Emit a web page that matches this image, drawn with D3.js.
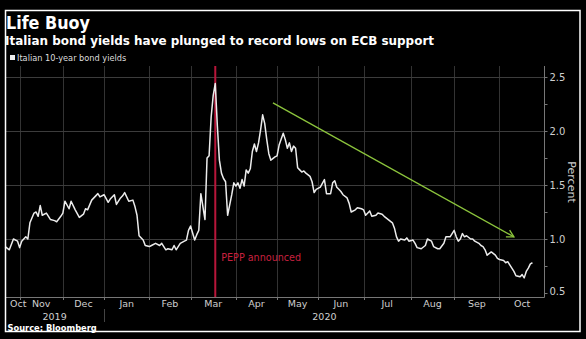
<!DOCTYPE html>
<html>
<head>
<meta charset="utf-8">
<script src="https://cdn.jsdelivr.net/npm/d3@7"></script>
<style>
  html, body { margin: 0; padding: 0; background: #000; }
  svg { display: block; }
  text { font-family: "DejaVu Sans", Verdana, sans-serif; }
</style>
</head>
<body>
<svg id="chart" width="586" height="339"></svg>
<script>
// Italian 10-year government bond yield, percent, by trading day
const dates = [
  "2019-10-23","2019-10-25","2019-10-29","2019-10-31","2019-11-01","2019-11-04","2019-11-05","2019-11-06","2019-11-07","2019-11-08",
  "2019-11-12","2019-11-13","2019-11-14","2019-11-15","2019-11-18","2019-11-20","2019-11-22","2019-11-26","2019-11-27","2019-11-29",
  "2019-12-02","2019-12-03","2019-12-05","2019-12-06","2019-12-10","2019-12-12","2019-12-16","2019-12-17","2019-12-18","2019-12-20",
  "2019-12-27","2019-12-30","2020-01-02","2020-01-06","2020-01-07","2020-01-09","2020-01-10","2020-01-14","2020-01-15","2020-01-16",
  "2020-01-20","2020-01-22","2020-01-23","2020-01-24","2020-01-27","2020-01-29","2020-01-30","2020-02-03","2020-02-04","2020-02-06",
  "2020-02-10","2020-02-11","2020-02-13","2020-02-14","2020-02-18","2020-02-19","2020-02-20","2020-02-24","2020-02-26","2020-02-27",
  "2020-02-28","2020-03-02","2020-03-04","2020-03-05","2020-03-06","2020-03-09","2020-03-11","2020-03-12","2020-03-13","2020-03-16",
  "2020-03-17","2020-03-18","2020-03-19","2020-03-20","2020-03-23","2020-03-24","2020-03-25","2020-03-26","2020-03-30","2020-03-31",
  "2020-04-01","2020-04-02","2020-04-03","2020-04-06","2020-04-07","2020-04-08","2020-04-09","2020-04-14","2020-04-15","2020-04-16",
  "2020-04-17","2020-04-20","2020-04-21","2020-04-22","2020-04-23","2020-04-24","2020-04-27","2020-04-28","2020-04-30","2020-05-04",
  "2020-05-05","2020-05-07","2020-05-08","2020-05-11","2020-05-12","2020-05-13","2020-05-14","2020-05-15","2020-05-18","2020-05-19",
  "2020-05-20","2020-05-21","2020-05-22","2020-05-26","2020-05-27","2020-05-28","2020-05-29","2020-06-02","2020-06-04","2020-06-05",
  "2020-06-09","2020-06-10","2020-06-11","2020-06-12","2020-06-15","2020-06-16","2020-06-17","2020-06-19","2020-06-22","2020-06-23",
  "2020-06-25","2020-06-26","2020-06-30","2020-07-01","2020-07-02","2020-07-06","2020-07-07","2020-07-09","2020-07-10","2020-07-14",
  "2020-07-15","2020-07-17","2020-07-21","2020-07-22","2020-07-23","2020-07-24","2020-07-27","2020-07-29","2020-07-30","2020-07-31",
  "2020-08-04","2020-08-05","2020-08-06","2020-08-10","2020-08-12","2020-08-13","2020-08-17","2020-08-18","2020-08-20","2020-08-21",
  "2020-08-25","2020-08-26","2020-08-28","2020-08-31","2020-09-01","2020-09-02","2020-09-03","2020-09-04","2020-09-07","2020-09-08",
  "2020-09-09","2020-09-11","2020-09-14","2020-09-15","2020-09-17","2020-09-18","2020-09-21","2020-09-22","2020-09-23","2020-09-25",
  "2020-09-29","2020-09-30","2020-10-01","2020-10-05","2020-10-06","2020-10-07","2020-10-09","2020-10-12","2020-10-13","2020-10-15",
  "2020-10-16","2020-10-19","2020-10-20","2020-10-21","2020-10-22","2020-10-23"
];
const yields = [
  0.93,0.90,1.00,0.98,0.92,0.98,1.00,1.02,1.00,1.15,
  1.24,1.25,1.21,1.31,1.22,1.24,1.18,1.17,1.16,1.21,
  1.24,1.35,1.28,1.35,1.27,1.20,1.23,1.28,1.27,1.36,
  1.42,1.39,1.41,1.34,1.37,1.41,1.32,1.38,1.40,1.43,
  1.35,1.36,1.30,1.22,1.03,0.99,0.94,0.93,0.94,0.96,
  0.94,0.96,0.90,0.91,0.90,0.94,0.90,0.96,0.98,0.99,
  1.08,1.12,0.99,1.04,1.08,1.42,1.18,1.75,1.77,2.13,
  2.33,2.44,2.05,1.73,1.61,1.56,1.53,1.22,1.41,1.52,
  1.49,1.52,1.47,1.55,1.49,1.64,1.61,1.65,1.81,1.88,
  1.81,1.89,2.01,2.15,2.07,1.92,1.79,1.73,1.76,1.77,
  1.87,1.98,1.92,1.84,1.89,1.81,1.86,1.84,1.66,1.64,
  1.62,1.63,1.61,1.58,1.53,1.43,1.46,1.48,1.55,1.42,
  1.42,1.52,1.54,1.48,1.46,1.44,1.41,1.38,1.33,1.25,
  1.27,1.29,1.28,1.27,1.22,1.26,1.21,1.22,1.24,1.23,
  1.21,1.18,1.15,1.10,1.02,0.98,1.00,0.99,1.01,0.98,
  0.99,0.96,0.92,0.91,0.94,1.00,0.98,0.93,0.91,0.91,
  0.96,1.02,1.02,1.05,1.08,1.02,0.98,1.00,1.05,1.02,
  1.03,1.00,1.00,0.98,0.96,0.94,0.93,0.90,0.85,0.88,
  0.85,0.82,0.81,0.80,0.78,0.79,0.73,0.70,0.66,0.65,
  0.67,0.64,0.70,0.73,0.77,0.78
];

// Market holidays skipped by the trading-day axis
const holidays = ["2019-12-25","2019-12-26","2020-01-01","2020-04-10","2020-04-13","2020-05-01"];

// Time axis: month boundaries, month names, years
const axisEnd = "2020-11-02";
const monthStarts = ["2019-11-01","2019-12-01","2020-01-01","2020-02-01","2020-03-01","2020-04-01",
                     "2020-05-01","2020-06-01","2020-07-01","2020-08-01","2020-09-01","2020-10-01"];
const monthNames = ["Oct","Nov","Dec","Jan","Feb","Mar","Apr","May","Jun","Jul","Aug","Sep","Oct"];
const yearNames = ["2019","2020"];
const yearBreak = "2020-01-01";

// Value axis
const yTicks = [0.5,0.75,1.0,1.25,1.5,1.75,2.0,2.25,2.5];
const yLabelled = [0.5,1.0,1.5,2.0,2.5];
const yGrid = [1.0,1.5,2.0,2.5];

// Annotations
const eventDate = "2020-03-18";
const eventText = "PEPP announced";
const trendDates = ["2020-04-29","2020-10-12"];
const trendValues = [2.26,1.02];

const W = 586, H = 339;
const frame = {left: 5.5, top: 10.5, right: 580, bottom: 331.5};
const plot = {left: 5.2, right: 544, top: 66, bottom: 297};

const parse = d3.utcParse("%Y-%m-%d");
const fmt = d3.utcFormat("%Y-%m-%d");
const holidaySet = new Set(holidays);
const tradingDay = d3.utcDay.filter(d => {
  const w = d.getUTCDay();
  return w > 0 && w < 6 && !holidaySet.has(fmt(d));
});
const origin = parse(dates[0]);
const tIndex = s => tradingDay.range(origin, parse(s)).length;

const x = d3.scaleLinear()
  .domain([tIndex(dates[0]), tIndex(axisEnd)])
  .range([plot.left, 544.8]);
const y = d3.scaleLinear().domain([0.5, 2.5]).range([293, 77]);

const svg = d3.select("#chart");
svg.append("rect").attr("width", W).attr("height", H).attr("fill", "#000");

// Header
svg.append("text").attr("x", 6).attr("y", 28.5)
  .attr("font-size", 17).attr("font-weight", "bold").attr("fill", "#fff")
  .attr("textLength", 84).attr("lengthAdjust", "spacingAndGlyphs")
  .text("Life Buoy");
svg.append("text").attr("x", 5).attr("y", 44.5)
  .attr("font-size", 12.6).attr("font-weight", "bold").attr("fill", "#fff")
  .attr("textLength", 429).attr("lengthAdjust", "spacingAndGlyphs")
  .text("Italian bond yields have plunged to record lows on ECB support");

// Legend
svg.append("rect").attr("x", 10).attr("y", 55).attr("width", 5).attr("height", 5).attr("fill", "#eee");
svg.append("text").attr("x", 17).attr("y", 60.8)
  .attr("font-size", 8.2).attr("fill", "#ddd")
  .text("Italian 10-year bond yields");

// Grid
const grid = svg.append("g");
grid.selectAll("line.vg").data(monthStarts).join("line")
  .attr("x1", d => Math.round(x(tIndex(d))) + 0.5)
  .attr("x2", d => Math.round(x(tIndex(d))) + 0.5)
  .attr("y1", plot.top).attr("y2", plot.bottom)
  .attr("stroke", "#333").attr("stroke-width", 1);
grid.selectAll("line.hg").data(yGrid).join("line")
  .attr("x1", frame.left).attr("x2", plot.right)
  .attr("y1", d => Math.round(y(d)) + 0.5).attr("y2", d => Math.round(y(d)) + 0.5)
  .attr("stroke", "#3c3c3c").attr("stroke-width", 1);

// Event marker
const ex = x(tIndex(eventDate));
svg.append("line").attr("x1", ex).attr("x2", ex)
  .attr("y1", plot.top).attr("y2", plot.bottom)
  .attr("stroke", "#b8163a").attr("stroke-width", 2);
svg.append("text").attr("x", ex + 6).attr("y", 261)
  .attr("font-size", 9.6).attr("fill", "#c8203f")
  .text(eventText);

// Yield line
const series = dates.map((d, i) => ({k: tIndex(d), v: yields[i]}));
svg.append("path").datum(series)
  .attr("d", d3.line().x(d => x(d.k)).y(d => y(d.v)))
  .attr("fill", "none").attr("stroke", "#ececec")
  .attr("stroke-width", 1.5).attr("stroke-linejoin", "round");

// Trend arrow
const tx0 = x(tIndex(trendDates[0])), ty0 = y(trendValues[0]);
const tx1 = x(tIndex(trendDates[1])), ty1 = y(trendValues[1]);
const green = "#8cc43c";
svg.append("line").attr("x1", tx0).attr("y1", ty0).attr("x2", tx1).attr("y2", ty1)
  .attr("stroke", green).attr("stroke-width", 1.3);
const ang = Math.atan2(ty1 - ty0, tx1 - tx0);
const head = [ang + Math.PI - 0.5, ang + Math.PI + 0.5];
svg.append("path")
  .attr("d", `M${tx1 + 8 * Math.cos(head[0])},${ty1 + 8 * Math.sin(head[0])}L${tx1},${ty1}L${tx1 + 8 * Math.cos(head[1])},${ty1 + 8 * Math.sin(head[1])}`)
  .attr("fill", "none").attr("stroke", green).attr("stroke-width", 1.3);

// Right value axis
const axisColor = "#777";
const yAxis = svg.append("g").attr("transform", `translate(${plot.right + 0.5},0)`)
  .call(d3.axisRight(y).tickValues(yTicks).tickSize(3).tickPadding(2)
    .tickFormat(d => yLabelled.includes(d) ? d3.format(".1f")(d) : ""));
yAxis.select(".domain").remove();
yAxis.selectAll(".tick line").attr("stroke", axisColor);
yAxis.selectAll(".tick text").attr("fill", "#cfcfcf").attr("font-size", 10)
  .attr("font-family", "DejaVu Sans, sans-serif")
  .attr("dy", d => d === yTicks[0] ? "0.1em" : "0.32em");
svg.append("line").attr("x1", plot.right + 0.5).attr("x2", plot.right + 0.5)
  .attr("y1", plot.top).attr("y2", plot.bottom + 0.5)
  .attr("stroke", axisColor);
svg.append("text")
  .attr("transform", `translate(568,182) rotate(90)`)
  .attr("text-anchor", "middle").attr("font-size", 11).attr("fill", "#cfcfcf")
  .text("Percent");

// Bottom time axis
svg.append("line").attr("x1", frame.left).attr("x2", plot.right + 0.5)
  .attr("y1", plot.bottom + 0.5).attr("y2", plot.bottom + 0.5)
  .attr("stroke", axisColor);
svg.selectAll("line.mt").data(monthStarts).join("line")
  .attr("x1", d => Math.round(x(tIndex(d))) + 0.5)
  .attr("x2", d => Math.round(x(tIndex(d))) + 0.5)
  .attr("y1", plot.bottom).attr("y2", plot.bottom + 3)
  .attr("stroke", axisColor);

const bounds = [dates[0], ...monthStarts, axisEnd];
const monthLabels = svg.append("g").selectAll("text").data(monthNames).join("text")
  .attr("y", 307).attr("font-size", 9.5).attr("fill", "#cfcfcf")
  .attr("text-anchor", "middle")
  .text(d => d);
monthLabels.each(function (d, i) {
  const mid = (x(tIndex(bounds[i])) + x(tIndex(bounds[i + 1]))) / 2;
  const half = this.getComputedTextLength() / 2;
  d3.select(this).attr("x", Math.max(mid, 10 + half));
});

const yearBounds = [[dates[0], yearBreak], [yearBreak, axisEnd]];
svg.append("g").selectAll("text").data(yearNames).join("text")
  .attr("x", (d, i) => (x(tIndex(yearBounds[i][0])) + x(tIndex(yearBounds[i][1]))) / 2)
  .attr("y", 320).attr("font-size", 9.5).attr("fill", "#cfcfcf")
  .attr("text-anchor", "middle")
  .text(d => d);
const yb = Math.round(x(tIndex(yearBreak))) + 0.5;
svg.append("line").attr("x1", yb).attr("x2", yb).attr("y1", 309).attr("y2", 322)
  .attr("stroke", "#444");

// Source
svg.append("text").attr("x", 7.5).attr("y", 330.5)
  .attr("font-size", 8.3).attr("font-weight", "bold").attr("fill", "#fff")
  .text("Source: Bloomberg");

// Frame
svg.append("rect")
  .attr("x", frame.left).attr("y", frame.top)
  .attr("width", frame.right - frame.left).attr("height", frame.bottom - frame.top)
  .attr("fill", "none").attr("stroke", "#fff").attr("stroke-width", 1.5);
</script>
</body>
</html>
